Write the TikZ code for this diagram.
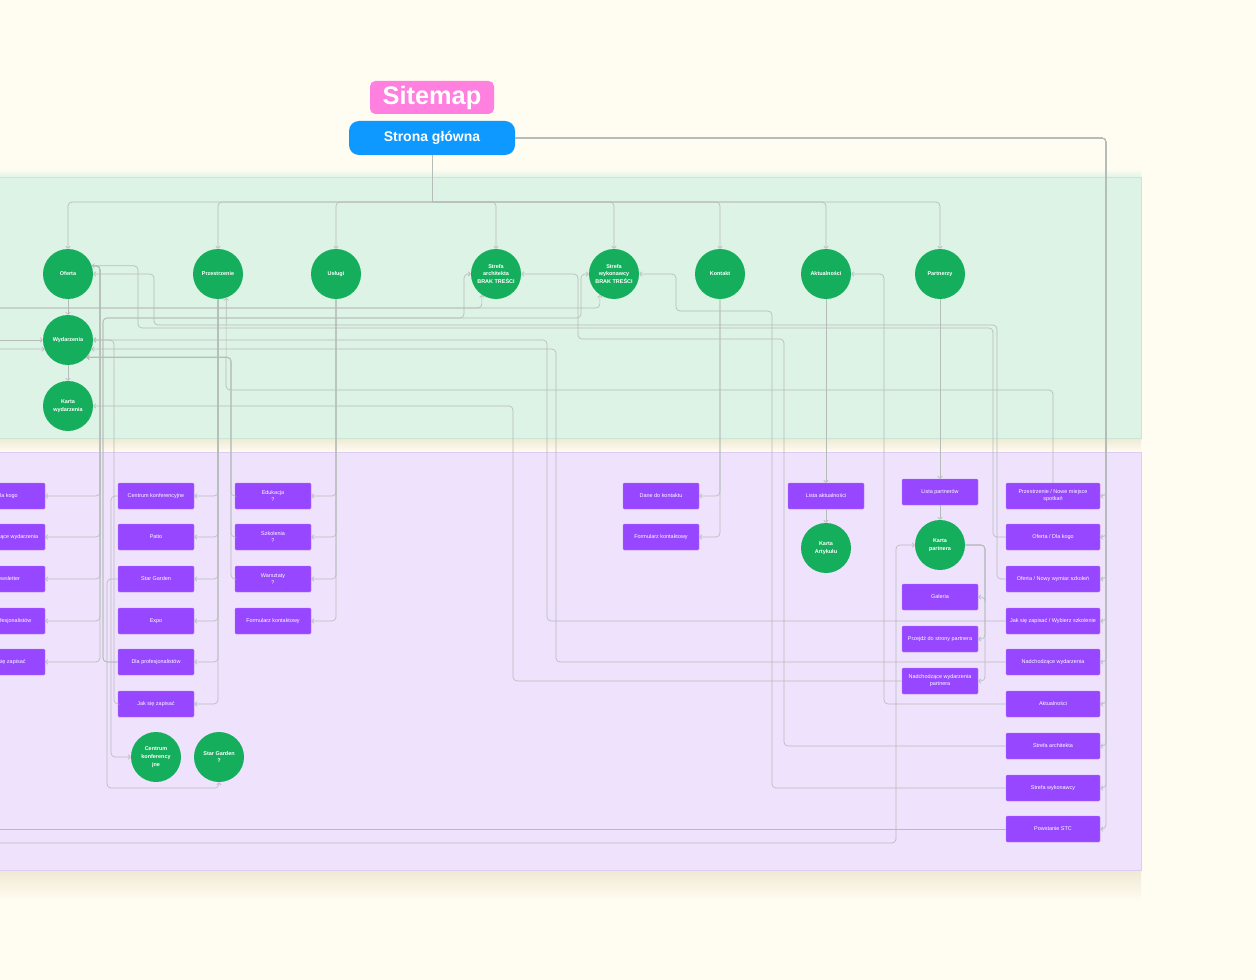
\documentclass[tikz,border=0pt]{standalone}
\usepackage{fontspec}
\setmainfont{Liberation Sans}
\usetikzlibrary{arrows.meta,calc}
\definecolor{bg}{HTML}{FFFCF1}
\definecolor{gpanel}{HTML}{DDF3E6}
\definecolor{gpaneledge}{HTML}{C8E6D3}
\definecolor{ppanel}{HTML}{EFE2FD}
\definecolor{ppaneledge}{HTML}{DCCBF2}
\definecolor{cgreen}{HTML}{14AE5C}
\definecolor{cpurple}{HTML}{9747FF}
\definecolor{cpurpleedge}{HTML}{B982FF}
\definecolor{cpink}{HTML}{FF80DE}
\definecolor{cblue}{HTML}{0D99FF}
\definecolor{cline}{HTML}{B6BCB8}
\definecolor{shadowc}{HTML}{EFE9D3}
\tikzset{
  conn/.style={draw=cline, line width=0.5pt, rounded corners=3pt},
  arr/.style={-{Straight Barb[length=1.6pt,width=3.4pt]}},
  gc/.style={circle, fill=cgreen, minimum size=37.5pt, inner sep=0pt, text=white,
    font=\fontsize{4.1}{5.9}\selectfont\bfseries, align=center},
  pb/.style={rectangle, fill=cpurple, draw=cpurpleedge, line width=0.3pt, rounded corners=0.8pt,
    minimum width=57pt, minimum height=19.5pt, inner sep=0pt, text=white,
    font=\fontsize{4.1}{5.3}\selectfont, align=center},
  pbw/.style={pb, minimum width=70.5pt},
}
\begin{document}
\begin{tikzpicture}[x=0.75pt,y=-0.75pt]
\useasboundingbox (0,0) rectangle (1256,980);
\clip (0,0) rectangle (1256,980);
\fill[bg] (0,0) rectangle (1256,980);
% panel shadows
\shade[top color=bg, bottom color=gpanel] (-5,169) rectangle (1141,178);
\shade[top color=shadowc, bottom color=bg] (-5,438) rectangle (1141,452);
\shade[top color=shadowc, bottom color=bg] (-5,870) rectangle (1141,900);
% panels
\filldraw[fill=gpanel, draw=gpaneledge, line width=0.5pt] (-5,177) rectangle (1141,438);
\filldraw[fill=ppanel, draw=ppaneledge, line width=0.5pt] (-5,452) rectangle (1141,870);

% title nodes
\node[fill=cpink, rounded corners=4pt, minimum width=93pt, minimum height=24.75pt, inner sep=0pt,
  text=white, font=\fontsize{19}{21}\selectfont\bfseries] (title) at (432,97.5) {Sitemap};
\node[fill=cblue, rounded corners=7.5pt, minimum width=124.5pt, minimum height=25.5pt, inner sep=0pt,
  text=white, font=\fontsize{10.5}{12}\selectfont\bfseries] (sg) at (432,138) {Strona główna};

% green circles
\node[gc] (ofe) at (68,274) {Oferta};
\node[gc] (prz) at (218,274) {Przestrzenie};
\node[gc] (usl) at (336,274) {Usługi};
\node[gc] (sar) at (496,274) {Strefa\\architekta\\BRAK TREŚCI};
\node[gc] (swk) at (614,274) {Strefa\\wykonawcy\\BRAK TREŚCI};
\node[gc] (kon) at (720,274) {Kontakt};
\node[gc] (akt) at (826,274) {Aktualności};
\node[gc] (par) at (940,274) {Partnerzy};
\node[gc] (wyd) at (68,340) {Wydarzenia};
\node[gc] (kwy) at (68,406) {Karta\\wydarzenia};
\node[gc] (kar) at (826,548) {Karta\\Artykułu};
\node[gc] (kpa) at (940,545) {Karta\\partnera};
\node[gc] (cki) at (156,757) {Centrum\\konferency\\jne};
\node[gc] (sgc) at (219,757) {Star Garden\\?};

% left column (cut off by the edge of the view)
\node[pb] (l1) at (7,496) {Dla kogo};
\node[pb] (l2) at (7,537) {Nadchodzące wydarzenia};
\node[pb] (l3) at (7,579) {Newsletter};
\node[pb] (l4) at (7,621) {Dla profesjonalistów};
\node[pb] (l5) at (7,662) {Jak się zapisać};
% Przestrzenie column
\node[pb] (p1) at (156,496) {Centrum konferencyjne};
\node[pb] (p2) at (156,537) {Patio};
\node[pb] (p3) at (156,579) {Star Garden};
\node[pb] (p4) at (156,621) {Expo};
\node[pb] (p5) at (156,662) {Dla profesjonalistów};
\node[pb] (p6) at (156,704) {Jak się zapisać};
% Uslugi column
\node[pb] (u1) at (273,496) {Edukacja\\?};
\node[pb] (u2) at (273,537) {Szkolenia\\?};
\node[pb] (u3) at (273,579) {Warsztaty\\?};
\node[pb] (u4) at (273,621) {Formularz kontaktowy};
% Kontakt column
\node[pb] (k1) at (661,496) {Dane do kontaktu};
\node[pb] (k2) at (661,537) {Formularz kontaktowy};
% Aktualnosci
\node[pb] (a1) at (826,496) {Lista aktualności};
% Partnerzy
\node[pb] (pa1) at (940,492) {Lista partnerów};
\node[pb] (pa2) at (940,597) {Galeria};
\node[pb] (pa3) at (940,639) {Przejdź do strony partnera};
\node[pb] (pa4) at (940,681) {Nadchodzące wydarzenia\\partnera};
% right column
\node[pbw] (r1) at (1053,496) {Przestrzenie / Nowe miejsce\\spotkań};
\node[pbw] (r2) at (1053,537) {Oferta / Dla kogo};
\node[pbw] (r3) at (1053,579) {Oferta / Nowy wymiar szkoleń};
\node[pbw] (r4) at (1053,621) {Jak się zapisać / Wybierz szkolenie};
\node[pbw] (r5) at (1053,662) {Nadchodzące wydarzenia};
\node[pbw] (r6) at (1053,704) {Aktualności};
\node[pbw] (r7) at (1053,746) {Strefa architekta};
\node[pbw] (r8) at (1053,788) {Strefa wykonawcy};
\node[pbw] (r9) at (1053,829) {Powstanie STC};

% free ends
\coordinate (bus) at (432,202);
\coordinate (e308) at (-10,308);
\coordinate (e340) at (-10,340);
\coordinate (e349) at (-10,349);
\coordinate (e829) at (-10,829);
\coordinate (e843) at (-10,843);

% main tree
\draw[conn] (sg.south) -- (bus);
\foreach \n in {ofe,prz,usl,sar,swk,kon,akt,par}{
  \draw[conn,arr] (bus) -| (\n.north);
}
% Strona glowna -> right column
\foreach \n in {r1,r2,r3,r4,r5,r6,r7,r8,r9}{
  \draw[conn,arr] (sg.east) -- (1106,138) |- (\n.east);
}
% vertical chains
\draw[conn,arr] (ofe.south) -- (wyd.north);
\draw[conn,arr] (wyd.south) -- (kwy.north);
\draw[conn,arr] (akt.south) -- (a1.north);
\draw[conn,arr] (a1.south) -- (kar.north);
\draw[conn,arr] (par.south) -- (pa1.north);
\draw[conn,arr] (pa1.south) -- (kpa.north);
% Oferta -> left column
\foreach \n in {l1,l2,l3,l4,l5}{
  \draw[conn,arr] (ofe.19) -| (100,480) |- (\n.east);
}
% Przestrzenie -> children
\foreach \n in {p1,p2,p3,p4,p5,p6}{
  \draw[conn,arr] (prz.south) |- (\n.east);
}
% Uslugi -> children
\foreach \n in {u1,u2,u3,u4}{
  \draw[conn,arr] (usl.south) |- (\n.east);
}
% Kontakt -> children
\draw[conn,arr] (kon.south) |- (k1.east);
\draw[conn,arr] (kon.south) |- (k2.east);
% Karta partnera -> children
\foreach \n in {pa2,pa3,pa4}{
  \draw[conn,arr] (kpa.east) -| (985,600) |- (\n.east);
}
% right column links back
\draw[conn,arr] (r1.north) |- (226,390) -- (prz.289);
\draw[conn,arr] (r2.west) -| (993,328) -| (138,300) |- (ofe.19);
\draw[conn,arr] (r3.west) -| (997,325) -| (154,300) |- (ofe.east);
\draw[conn,arr] (r4.west) -| (547,400) |- (wyd.east);
\draw[conn,arr] (r5.west) -| (556,400) |- (wyd.-21);
\draw[conn,arr] (r6.west) -| (884,400) |- (akt.east);
\draw[conn,arr] (r7.west) -| (784,400) |- (578,339) |- (sar.east);
\draw[conn,arr] (r8.west) -| (772,400) |- (676,311) |- (swk.east);
\draw[conn] (e829) -- (r9.west);
% Uslugi children -> Wydarzenia
\foreach \n in {u1,u2,u3}{
  \draw[conn,arr] (\n.west) -| (231,400) |- (wyd.-43);
}
% Przestrzenie children links
\draw[conn,arr] (p6.west) -| (114,400) |- (wyd.east);
\draw[conn,arr] (p5.west) -| (103,318) -| (464,300) |- (sar.west);
\draw[conn,arr] (p5.west) -| (103,318) -| (581,300) |- (swk.west);
\draw[conn,arr] (p1.west) -| (111,600) |- (cki.west);
\draw[conn,arr] (p3.west) -| (107,788) -| (sgc.south);
% Karta wydarzenia <- partner events
\draw[conn,arr] (pa4.west) -| (513,500) |- (kwy.east);
% lines from outside the view
\draw[conn,arr] (e308) -| (sar.236);
\draw[conn,arr] (e308) -| (swk.236);
\draw[conn,arr] (e340) -- (wyd.west);
\draw[conn,arr] (e349) -- (wyd.201);
\draw[conn,arr] (e843) -| (896,600) |- (kpa.west);
\end{tikzpicture}
\end{document}
